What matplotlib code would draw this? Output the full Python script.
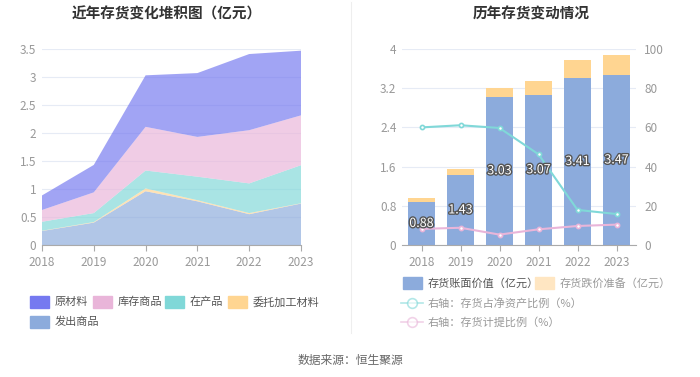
import matplotlib.pyplot as plt
import matplotlib.patheffects as pe
from matplotlib.patches import Rectangle
from matplotlib.lines import Line2D

plt.rcParams['font.family'] = ['Noto Sans CJK SC', 'DejaVu Sans']

years = ['2018', '2019', '2020', '2021', '2022', '2023']

# 左图：存货构成（亿元）
fachu = [0.25, 0.40, 0.96, 0.78, 0.55, 0.74]       # 发出商品
weituo = [0.005, 0.01, 0.05, 0.02, 0.02, 0.005]    # 委托加工材料
zaichan = [0.16, 0.16, 0.32, 0.42, 0.53, 0.68]     # 在产品
kucun = [0.21, 0.37, 0.78, 0.71, 0.95, 0.89]       # 库存商品
yuancailiao = [0.26, 0.49, 0.92, 1.14, 1.36, 1.155]  # 原材料

# 右图
zhangmian = [0.88, 1.43, 3.03, 3.07, 3.41, 3.47]   # 存货账面价值
dieja = [0.07, 0.13, 0.17, 0.27, 0.37, 0.41]       # 存货跌价准备
zhanbi = [60.0, 61.1, 59.7, 46.3, 17.9, 15.8]      # 存货占净资产比例
jiti = [8.2, 8.8, 5.3, 8.0, 9.7, 10.4]             # 存货计提比例

c_yuan = '#7579f0'
c_kucun = '#e9b5d9'
c_zai = '#80d8d8'
c_wei = '#ffd591'
c_fa = '#8cabdc'
grid_c = '#e6ebf5'
tick_c = '#999999'

fig = plt.figure(figsize=(7, 3.77), dpi=100)
W, H = 700, 377

def box(x0, x1, ytop, ybot):
    return [x0 / W, 1 - ybot / H, (x1 - x0) / W, (ybot - ytop) / H]

# ---------- 左图 ----------
ax1 = fig.add_axes(box(42, 301, 49, 245))
xs = list(range(len(years)))
ax1.stackplot(xs, fachu, weituo, zaichan, kucun, yuancailiao,
              colors=[c_fa, c_wei, c_zai, c_kucun, c_yuan], alpha=0.68, linewidth=0)
ax1.set_xlim(0, 5)
ax1.set_ylim(0, 3.5)
ax1.set_yticks([0, 0.5, 1, 1.5, 2, 2.5, 3, 3.5])
ax1.set_yticklabels(['0', '0.5', '1', '1.5', '2', '2.5', '3', '3.5'])
ax1.set_xticks(xs)
ax1.set_xticklabels(years)
ax1.grid(axis='y', color=grid_c, linewidth=0.8)
ax1.set_axisbelow(True)
for s in ['top', 'right', 'left']:
    ax1.spines[s].set_visible(False)
ax1.spines['bottom'].set_color('#aaaaaa')
ax1.tick_params(axis='both', colors=tick_c, labelsize=8.5, length=0, pad=4)
ax1.tick_params(axis='x', length=4, color='#aaaaaa')
ax1.set_title('近年存货变化堆积图（亿元）', fontsize=10.5, fontweight='bold',
              color='#333333', x=0.48, y=1.0, pad=22)

# ---------- 右图 ----------
ax2 = fig.add_axes(box(402, 636, 49, 245))
ax2.bar(xs, zhangmian, width=0.68, color=c_fa, zorder=2)
ax2.bar(xs, dieja, bottom=zhangmian, width=0.68, color=c_wei, zorder=2)
ax2.set_xlim(-0.5, 5.5)
ax2.set_ylim(0, 4)
ax2.set_yticks([0, 0.8, 1.6, 2.4, 3.2, 4])
ax2.set_yticklabels(['0', '0.8', '1.6', '2.4', '3.2', '4'])
ax2.set_xticks(xs)
ax2.set_xticklabels(years)
ax2.grid(axis='y', color=grid_c, linewidth=0.8, zorder=0)
ax2.set_axisbelow(True)
for s in ['top', 'right', 'left']:
    ax2.spines[s].set_visible(False)
ax2.spines['bottom'].set_color('#aaaaaa')
ax2.tick_params(axis='both', colors=tick_c, labelsize=8.5, length=0, pad=4)
ax2.tick_params(axis='x', length=4, color='#aaaaaa')
ax2.set_title('历年存货变动情况', fontsize=10.5, fontweight='bold',
              color='#333333', x=0.55, y=1.0, pad=22)

ax3 = ax2.twinx()
ax3.plot(xs, zhanbi, color=c_zai, linewidth=1.5, marker='o', markersize=3,
         markerfacecolor='white', markeredgewidth=1.2, zorder=4)
ax3.plot(xs, jiti, color=c_kucun, linewidth=1.5, marker='o', markersize=3,
         markerfacecolor='white', markeredgewidth=1.2, zorder=4)
ax3.set_ylim(0, 100)
ax3.set_yticks([0, 20, 40, 60, 80, 100])
for s in ['top', 'right', 'left', 'bottom']:
    ax3.spines[s].set_visible(False)
ax3.tick_params(axis='y', colors=tick_c, labelsize=8.5, length=0, pad=6)

# 柱内数值标签（画在折线之上）
for i, v in enumerate(zhangmian):
    ax3.text(i, v / 2 * 25, f'{v:.2f}', ha='center', va='center', fontsize=9,
             color='white', zorder=6,
             path_effects=[pe.withStroke(linewidth=2, foreground='#555555')])

# 分隔线
fig.add_artist(Line2D([351 / W, 351 / W], [1 - 2 / H, 1 - 333 / H],
                      color='#eeeeee', linewidth=0.8))

# ---------- 图例 ----------
def legend_patch(x, y, color, label, tc='#555555'):
    fig.add_artist(Rectangle((x / W, 1 - (y + 6) / H), 19 / W, 12 / H,
                             color=color, transform=fig.transFigure))
    fig.text((x + 25) / W, 1 - y / H, label, fontsize=8, color=tc,
             va='center', ha='left')

legend_patch(30, 302, c_yuan, '原材料')
legend_patch(93, 302, c_kucun, '库存商品')
legend_patch(165, 302, c_zai, '在产品')
legend_patch(228, 302, c_wei, '委托加工材料')
legend_patch(30, 322, c_fa, '发出商品')

legend_patch(403, 283, c_fa, '存货账面价值（亿元）')
legend_patch(535, 283, '#ffe6c2', '存货跌价准备（亿元）', tc='#999999')

def legend_line(x, y, color, label):
    fig.add_artist(Line2D([x / W, (x + 22) / W], [1 - y / H, 1 - y / H],
                          color=color, linewidth=1.2, alpha=0.6, marker=None))
    fig.add_artist(Line2D([(x + 11) / W], [1 - y / H], color=color, alpha=0.6,
                          marker='o', markersize=7, markerfacecolor='white',
                          markeredgewidth=1.2))
    fig.text((x + 27) / W, 1 - y / H, label, fontsize=8, color='#999999',
             va='center', ha='left')

legend_line(401, 303, c_zai, '右轴：存货占净资产比例（%）')
legend_line(401, 322, c_kucun, '右轴：存货计提比例（%）')

fig.text(0.5, 1 - 360 / H, '数据来源：恒生聚源', fontsize=8.5, color='#666666',
         ha='center', va='center')

fig.savefig('out.png', dpi=100)
